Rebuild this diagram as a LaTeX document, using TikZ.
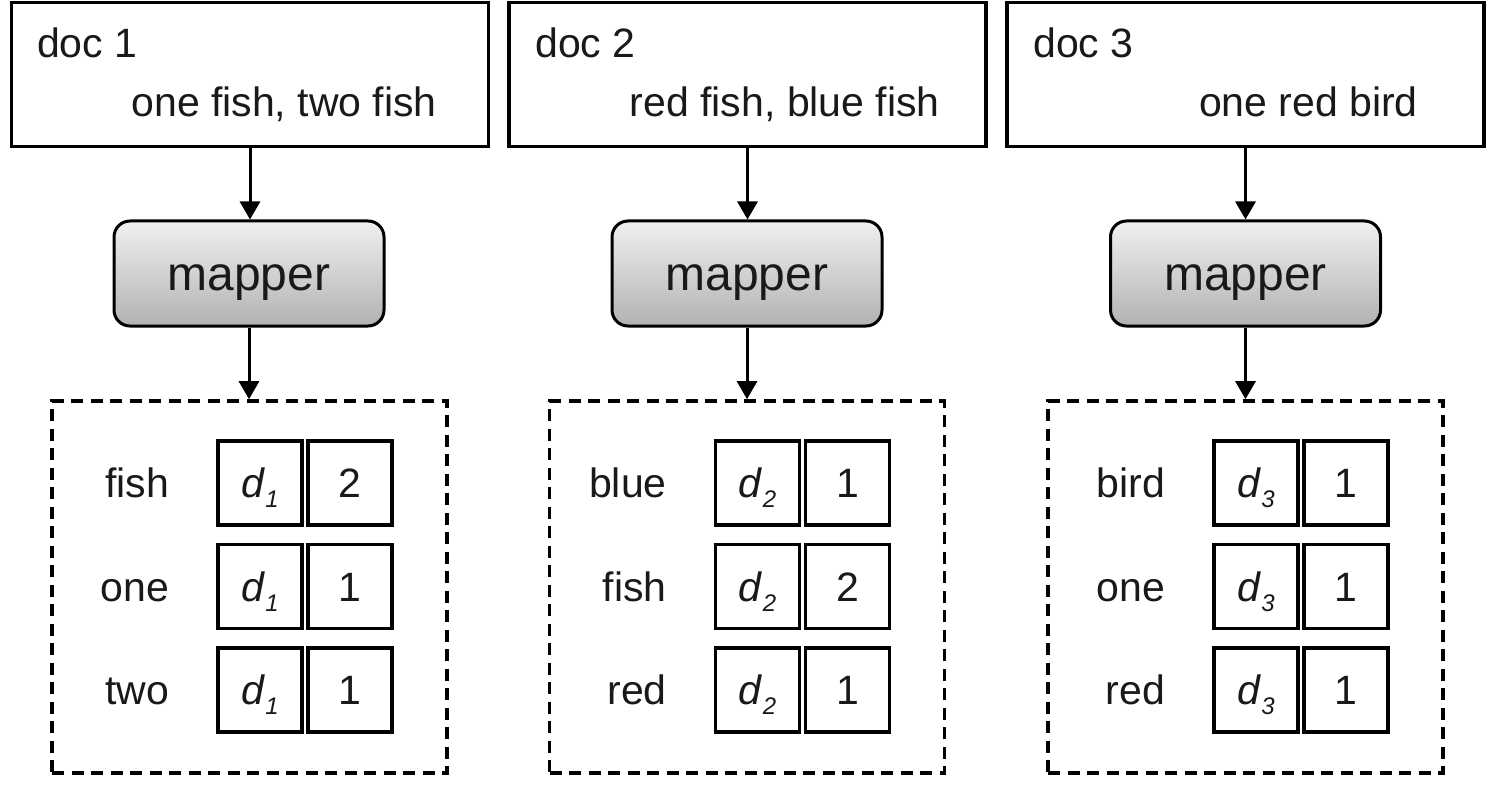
\documentclass[tikz,border=0pt]{standalone}
\usepackage{fontspec}
\setmainfont{Liberation Sans}
\usetikzlibrary{arrows.meta,calc}

\definecolor{ink}{RGB}{25,25,25}
\definecolor{maptop}{RGB}{240,240,240}
\definecolor{mapbot}{RGB}{178,178,178}

% italic d with a lowered italic index
\newcommand\docid[1]{\textit{d}\raisebox{-10pt}{\fontsize{24}{24}\selectfont\textit{#1}}}

\tikzset{
  docbox/.style={draw=black, line width=3.3pt, minimum width=477pt, minimum height=144pt, inner sep=0pt},
  doctext/.style={text=ink, font=\fontsize{41}{48}\selectfont, inner sep=0pt},
  mapbox/.style={draw=black, line width=3pt, rounded corners=16pt, minimum width=270pt,
    minimum height=105pt, inner sep=0pt, top color=maptop, bottom color=mapbot,
    text=ink, font=\fontsize{48}{56}\selectfont, text height=34.4pt, text depth=0pt},
  outbox/.style={draw=black, line width=3.6pt, dash pattern=on 12pt off 7.5pt,
    minimum width=395pt, minimum height=372pt, inner sep=0pt},
  cell/.style={draw=black, line width=3.2pt, minimum width=84pt, minimum height=84pt, inner sep=0pt,
    text=ink, font=\fontsize{41}{48}\selectfont, text height=29.4pt, text depth=0pt},
  word/.style={text=ink, font=\fontsize{41}{48}\selectfont, inner sep=0pt,
    text height=29.4pt, text depth=0pt, anchor=east},
  flow/.style={draw=black, line width=3pt, -{Triangle[length=18pt,width=20pt]}},
}

\begin{document}
\begin{tikzpicture}[x=1pt,y=-1pt]
\useasboundingbox (0,0) rectangle (1506,786);

% input documents
\node[docbox] (doc1) at (250,74.5) {};
\node[docbox] (doc2) at (747.5,74.5) {};
\node[docbox] (doc3) at (1245.5,74.5) {};
\node[doctext, anchor=base west] (doc1name) at (37,58) {doc 1};
\node[doctext, anchor=base west] (doc2name) at (535,58) {doc 2};
\node[doctext, anchor=base west] (doc3name) at (1033,58) {doc 3};
\node[doctext, anchor=base east] (doc1body) at (437,117) {one fish, two fish};
\node[doctext, anchor=base east] (doc2body) at (940,117) {red fish, blue fish};
\node[doctext, anchor=base east] (doc3body) at (1418,117) {one red bird};

% mappers
\node[mapbox] (map1) at (249,273.5) {mapper};
\node[mapbox] (map2) at (747,273.5) {mapper};
\node[mapbox] (map3) at (1245.5,273.5) {mapper};

% intermediate key/value outputs
\node[outbox] (out1) at (249.5,587) {};
\node[outbox] (out2) at (747,587) {};
\node[outbox] (out3) at (1245.5,587) {};

% output cells: doc id and count
\foreach \col/\left/\ida/\idb/\idc/\na/\nb/\nc/\wa/\wb/\wc in {
   1/218/1/1/1/2/1/1/fish/one/two,
   2/715.5/2/2/2/1/2/1/blue/fish/red,
   3/1214/3/3/3/1/1/1/bird/one/red}{
  \node[cell] (c\col a) at (\left+42,483) {\docid{\ida}};
  \node[cell] (c\col b) at (\left+42,586.5) {\docid{\idb}};
  \node[cell] (c\col c) at (\left+42,690) {\docid{\idc}};
  \node[cell] (n\col a) at (\left+132,483) {\na};
  \node[cell] (n\col b) at (\left+132,586.5) {\nb};
  \node[cell] (n\col c) at (\left+132,690) {\nc};
  \node[word] (w\col a) at ([xshift=-47pt]c\col a.west) {\wa};
  \node[word] (w\col b) at ([xshift=-47pt]c\col b.west) {\wb};
  \node[word] (w\col c) at ([xshift=-47pt]c\col c.west) {\wc};
}

% connectors
\foreach \i in {1,2,3}{
  \draw[flow] (doc\i.south) -- (doc\i.south |- map\i.north);
  \draw[flow] (map\i.south) -- (map\i.south |- out\i.north);
}
\end{tikzpicture}
\end{document}
